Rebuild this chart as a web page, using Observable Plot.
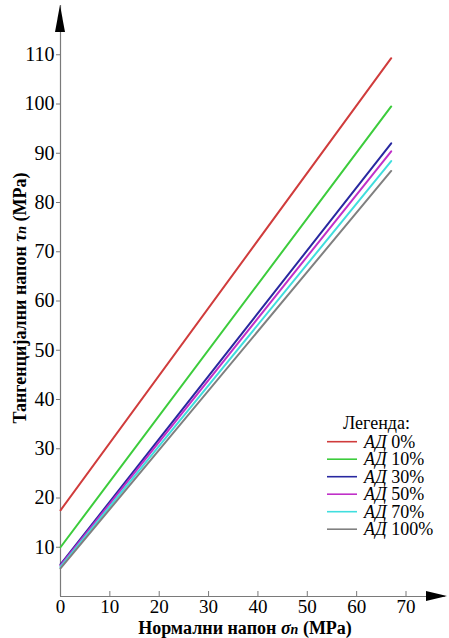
<!DOCTYPE html>
<html><head><meta charset="utf-8">
<script src="https://cdn.jsdelivr.net/npm/d3@7"></script>
<script src="https://cdn.jsdelivr.net/npm/@observablehq/plot@0.6"></script>
<style>
body{margin:0;background:#fff;}
#wrap{position:relative;width:449px;height:638px;}
svg text, svg tspan{font-family:"Liberation Serif","Tinos","Times New Roman","DejaVu Serif",serif !important;}
</style></head><body><div id="wrap"></div>
<script>
// Data
const series = ["0%", "10%", "30%", "50%", "70%", "100%"];
const seriesPrefix = "АД";
const colors = ["#d03c3c", "#3ccc3c", "#2828a0", "#c030c8", "#40dede", "#808080"];
const sigmaN = [0, 67];
const tauStart = [17.5, 10.0, 6.5, 6.3, 6.0, 5.7];
const tauEnd = [109.3, 99.5, 92.0, 90.4, 88.4, 86.4];
const xTicks = [0, 10, 20, 30, 40, 50, 60, 70];
const yTicks = [10, 20, 30, 40, 50, 60, 70, 80, 90, 100, 110];
const xLabel = ["Нормални напон ", "σ", "n", " (MPa)"];
const yLabel = ["Тангенцијални напон ", "τ", "n", " (MPa)"];
const legendTitle = "Легенда:";

const rows = [];
series.forEach((s, i) => {
  rows.push({s, x: sigmaN[0], y: tauStart[i]});
  rows.push({s, x: sigmaN[1], y: tauEnd[i]});
});

const chart = Plot.plot({
  width: 449, height: 638,
  marginLeft: 60, marginRight: 4, marginTop: 5, marginBottom: 42,
  x: {domain: [0, 78]},
  y: {domain: [0, 120]},
  color: {domain: series, range: colors},
  style: {background: "#fff", color: "#000"},
  marks: [
    Plot.ruleY([0], {stroke: "#7a7a7a", strokeWidth: 1.2}),
    Plot.ruleX([0], {stroke: "#7a7a7a", strokeWidth: 1.2}),
    Plot.axisY({ticks: yTicks, tickSize: 4, tickPadding: 2, fontSize: 20, label: null, stroke: "#7a7a7a", color: "#000"}),
    Plot.axisX({ticks: xTicks, tickSize: -5, tickPadding: 8, fontSize: 19, label: null, stroke: "#7a7a7a", color: "#000"}),
    Plot.line(rows, {x: "x", y: "y", z: "s", stroke: "s", strokeWidth: 2})
  ]
});
document.getElementById("wrap").appendChild(chart);

const svg = d3.select(chart);
const sx = chart.scale("x"), sy = chart.scale("y");
const x0 = sx.apply(0), y0 = sy.apply(0);
const yTop = sy.apply(sy.domain[1]), xEnd = sx.apply(sx.domain[1]);
// axis arrows
svg.append("polygon").attr("points", `${x0},${yTop} ${x0-5},${yTop+27} ${x0+5},${yTop+27}`).attr("fill", "#000");
svg.append("polygon").attr("points", `${xEnd+2},${y0} ${xEnd-19},${y0-5} ${xEnd-19},${y0+5}`).attr("fill", "#000");

// axis labels
function label(parts, attrs) {
  const t = svg.append("text").attr("font-weight", "bold").attr("font-size", 18).attr("text-anchor", "middle").attr("fill", "#000");
  for (const [k, v] of Object.entries(attrs)) t.attr(k, v);
  t.append("tspan").text(parts[0]);
  t.append("tspan").attr("font-style", "italic").text(parts[1]);
  t.append("tspan").attr("font-style", "italic").attr("font-size", 14).text(parts[2]);
  t.append("tspan").text(parts[3]);
}
label(xLabel, {x: 245, y: 634});
label(yLabel, {transform: `translate(26,298) rotate(-90)`});

// legend
const lg = svg.append("g").attr("font-size", 18).attr("fill", "#000").attr("text-anchor", "start");
lg.append("text").attr("x", 343).attr("y", 429).text(legendTitle);
series.forEach((s, i) => {
  const yy = 441.7 + i * 17.5;
  lg.append("line").attr("x1", 327).attr("x2", 357).attr("y1", yy).attr("y2", yy).attr("stroke", colors[i]).attr("stroke-width", 1.6);
  const t = lg.append("text").attr("x", 364).attr("y", yy + 6);
  t.append("tspan").attr("font-style", "italic").text(seriesPrefix);
  t.append("tspan").text(" " + s);
});
</script></body></html>
